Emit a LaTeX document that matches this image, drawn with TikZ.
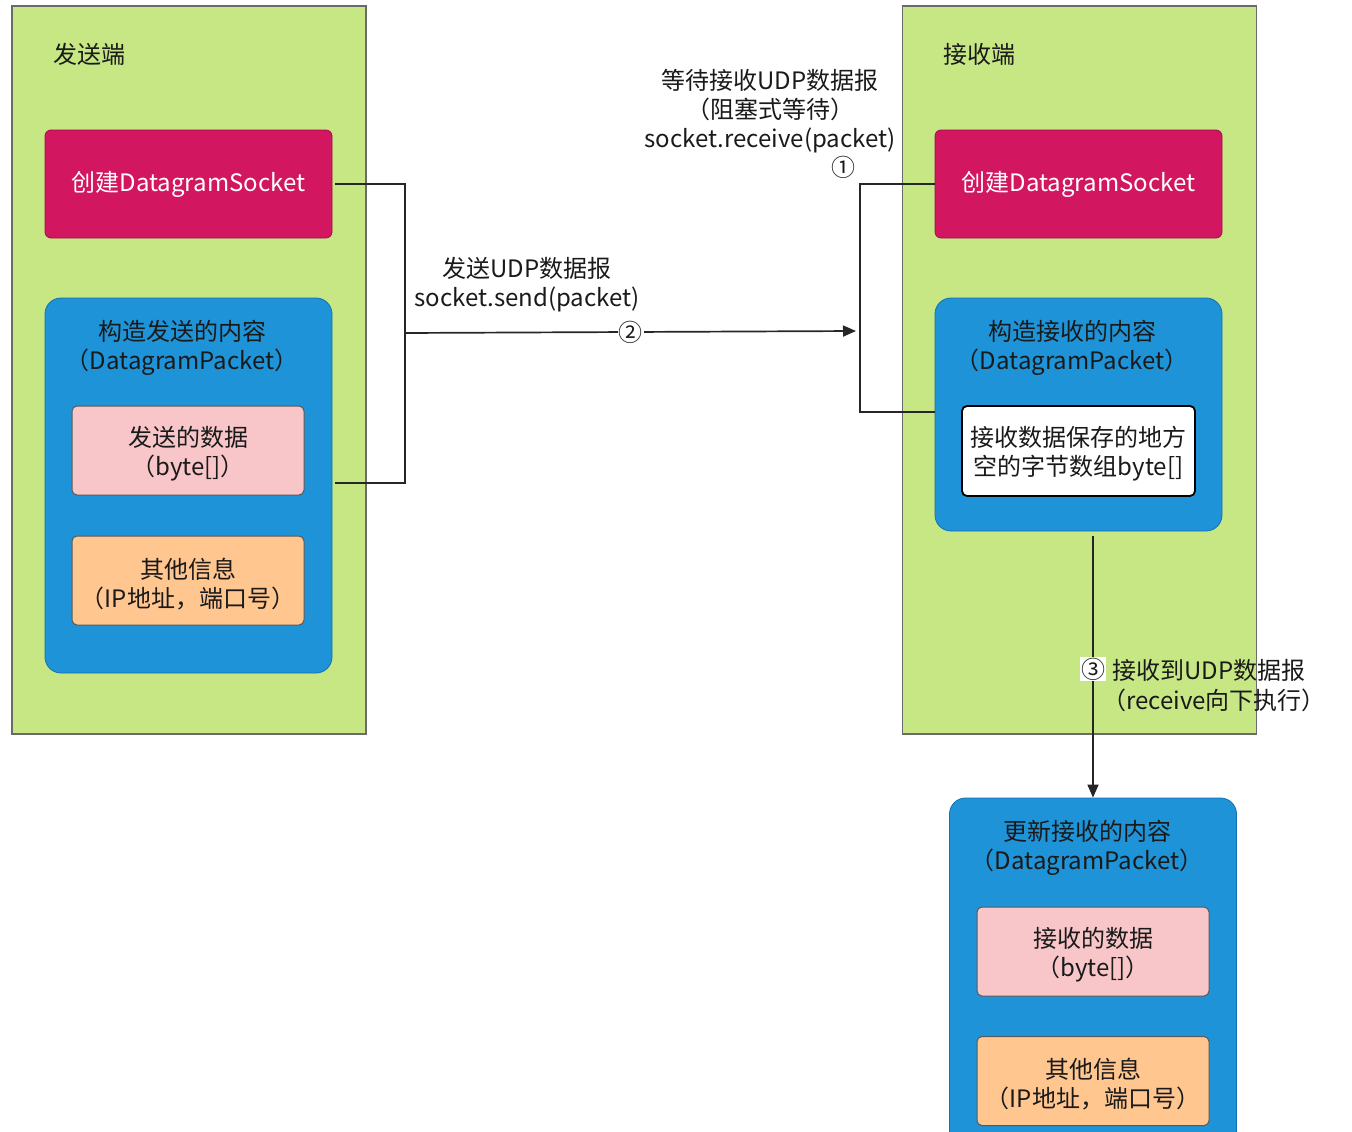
\documentclass[tikz,border=0pt]{standalone}
\usepackage{fontspec}
\setmainfont{Noto Sans CJK SC}
\usetikzlibrary{arrows.meta}
\definecolor{grn}{HTML}{C6E784}
\definecolor{grnD}{HTML}{6A6A6A}
\definecolor{crim}{HTML}{D2165F}
\definecolor{crimD}{HTML}{A0104A}
\definecolor{blu}{HTML}{1E93D8}
\definecolor{bluD}{HTML}{1470B0}
\definecolor{pnk}{HTML}{F8C6C8}
\definecolor{org}{HTML}{FFC690}
\definecolor{txt}{HTML}{1A1A1A}
\tikzset{
  base/.style={font=\fontsize{24}{29}\selectfont, text=txt, align=center, inner sep=0pt},
  side/.style={rectangle, draw=grnD, fill=grn, line width=1.6pt, minimum width=354pt, minimum height=728pt, inner sep=0pt},
  sockbox/.style={base, rectangle, rounded corners=6pt, fill=crim, draw=crimD, line width=0.8pt, text=white, minimum width=287pt, minimum height=108pt},
  pktbox/.style={rectangle, rounded corners=16pt, fill=blu, draw=bluD, line width=0.8pt, minimum width=287pt, inner sep=0pt},
  databox/.style={rectangle, rounded corners=5pt, fill=pnk, draw=black!65, line width=1pt, minimum width=232pt, minimum height=89pt},
  infobox/.style={databox, fill=org},
  emptybox/.style={rectangle, rounded corners=5pt, fill=white, draw=black, line width=1.8pt, minimum width=233pt, minimum height=90pt},
  lbl/.style={base},
  conn/.style={draw=black!85, line width=1.7pt},
  arr/.style={conn, -{Triangle[length=13pt,width=11pt]}},
}
\begin{document}
\begin{tikzpicture}[x=1pt,y=-1pt]
\useasboundingbox (0,0) rectangle (1352,1132);
\clip (0,0) rectangle (1352,1132);
% sender side
\node[side] (sender) at (189,370) {};
\node[lbl, anchor=west] (sendertitle) at (53,54) {发送端};
\node[sockbox] (sock1) at (188.5,184) {\raisebox{-2pt}{创建DatagramSocket}};
\node[pktbox, minimum height=375pt] (pkt1) at (188.5,485.5) {};
\node[lbl] (pkt1title) at (182,348) {构造发送的内容\\（DatagramPacket）};
\node[databox] (data1) at (188,450.5) {};
\node[lbl] (data1t) at (188,454) {发送的数据\\（byte[]）};
\node[infobox] (info1) at (188,580.5) {};
\node[lbl] (info1t) at (188,584) {其他信息\\（IP地址，端口号）};
% receiver side
\node[side] (receiver) at (1079.5,370) {};
\node[lbl, anchor=west] (receivertitle) at (943,54) {接收端};
\node[sockbox] (sock2) at (1078.5,184) {\raisebox{-2pt}{创建DatagramSocket}};
\node[pktbox, minimum height=233pt] (pkt2) at (1078.5,414.5) {};
\node[lbl] (pkt2title) at (1072,348) {构造接收的内容\\（DatagramPacket）};
\node[emptybox] (buf) at (1078.5,451) {};
\node[lbl] (buft) at (1078.5,454) {接收数据保存的地方\\空的字节数组byte[]};
% updated packet
\node[pktbox, minimum height=400pt] (pkt3) at (1093,998) {};
\node[lbl] (pkt3title) at (1087,848) {更新接收的内容\\（DatagramPacket）};
\node[databox] (data3) at (1093,951.5) {};
\node[lbl] (data3t) at (1093,955) {接收的数据\\（byte[]）};
\node[infobox] (info3) at (1093,1081) {};
\node[lbl] (info3t) at (1093,1084) {其他信息\\（IP地址，端口号）};
% connectors
\coordinate (b1top) at (405,184);
\coordinate (b1bot) at (405,483);
\coordinate (b1mid) at (405,333);
\coordinate (b2top) at (860,184);
\coordinate (b2bot) at (860,412);
\coordinate (b2mid) at (856,331);
\draw[conn] ([xshift=3pt]sock1.east) -- (b1top) -- (b1bot) -- ([xshift=3pt]pkt1.east |- b1bot);
\draw[conn] (sock2.west) -- (b2top) -- (b2bot) -- (pkt2.west |- b2bot);
\draw[arr] (b1mid) -- node[lbl, fill=white, inner sep=1pt] (n2) {②} (b2mid);
\node[lbl] (sendlbl) at (527,285) {发送UDP数据报\\socket.send(packet)};
\node[lbl] (recvlbl) at (770,111) {等待接收UDP数据报\\（阻塞式等待）\\socket.receive(packet)};
\node[lbl] (n1) at (843,167) {①};
\coordinate (v1) at (1093,536);
\draw[arr] (v1) -- (v1 |- pkt3.north);
\node[lbl, fill=white, inner sep=1pt] (n3) at (1093,669) {③};
\node[lbl, anchor=west] (gotlbl1) at (1112,670) {接收到UDP数据报};
\node[lbl, anchor=west] (gotlbl2) at (1102,700) {（receive向下执行）};
\end{tikzpicture}
\end{document}
